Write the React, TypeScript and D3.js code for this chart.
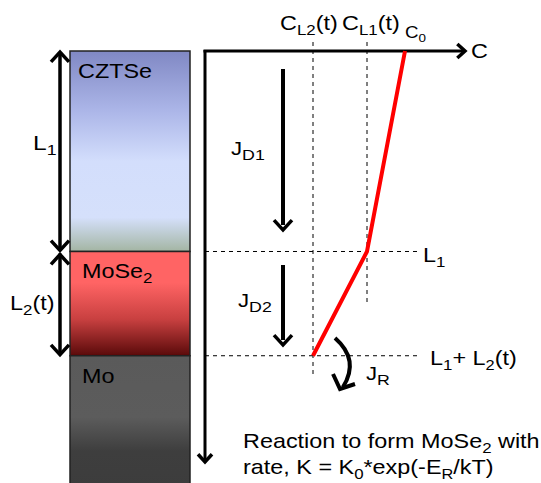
import React from 'react';
import * as d3 from 'd3';

// layer stack (depth units, 0 = surface)
const layers = [
  { name: 'CZTSe', sub: '', top: 0, bottom: 2.0, stops: ['#8088c4', '#acb6e8', '#d3defc', '#d5e0fb', '#a3b5a3'], at: [0, 0.3, 0.55, 0.83, 1] },
  { name: 'MoSe', sub: '2', top: 2.0, bottom: 3.04, stops: ['#ff6464', '#ff6464', '#c84040', '#5a0a0a'], at: [0, 0.3, 0.65, 1] },
  { name: 'Mo', sub: '', top: 3.04, bottom: 4.4, stops: ['#5a5a5a', '#5c5c5c', '#3e3e3e', '#3c3c3c'], at: [0, 0.45, 0.7, 1] },
];
const L1 = 2.0;
const L12 = 3.04;
const depthMax = 4.1;

// concentration profile (C relative to C0, depth)
const profile: [number, number][] = [
  [1.0, 0],
  [0.81, L1],
  [0.54, L12],
];
const cL1 = 0.81;
const cL2 = 0.54;
const cMax = 1.3;

const W = 541;
const H = 483;
const SX = 1.17; // the original lettering is a bit wide

const y = d3.scaleLinear().domain([0, depthMax]).range([51, 462]);
const x = d3.scaleLinear().domain([0, cMax]).range([205, 465]);

const Sub = ({ t, s, size = 20, r = 0.72 }: { t: string; s: string; size?: number; r?: number }) => (
  <>
    {t}
    <tspan fontSize={size * r} dy={size * 0.25}>{s}</tspan>
  </>
);

const Txt = ({ x0, y0, size = 20, children }: { x0: number; y0: number; size?: number; children: React.ReactNode }) => (
  <text transform={`translate(${x0},${y0}) scale(${SX},1)`} fontSize={size}>{children}</text>
);

const Head = ({ x0, y0, dir, s = 9 }: { x0: number; y0: number; dir: 'up' | 'down' | 'right'; s?: number }) => {
  let pts = '';
  if (dir === 'up') pts = `${x0 - s},${y0 + s * 1.1} ${x0},${y0} ${x0 + s},${y0 + s * 1.1}`;
  if (dir === 'down') pts = `${x0 - s},${y0 - s * 1.1} ${x0},${y0} ${x0 + s},${y0 - s * 1.1}`;
  if (dir === 'right') pts = `${x0 - s * 1.1},${y0 - s} ${x0},${y0} ${x0 - s * 1.1},${y0 + s}`;
  return <polyline points={pts} fill="none" stroke="#000" strokeWidth={3.5} strokeLinejoin="miter" />;
};

export default function App() {
  const line = d3.line<[number, number]>().x((d) => x(d[0])).y((d) => y(d[1]));
  const stackX0 = 70;
  const stackX1 = 190;
  const font = 'Liberation Sans, Arial, sans-serif';
  const dash = '4,4';

  const jrPath = d3.path();
  jrPath.moveTo(335, 338);
  jrPath.quadraticCurveTo(360, 360, 343, 387);

  return (
    <svg width={W} height={H} style={{ position: 'absolute', left: 0, top: 0, background: '#fff' }} fontFamily={font}>
      <defs>
        {layers.map((l, i) => (
          <linearGradient key={i} id={`g${i}`} x1="0" y1="0" x2="0" y2="1">
            {l.stops.map((c, j) => (
              <stop key={j} offset={l.at[j]} stopColor={c} />
            ))}
          </linearGradient>
        ))}
      </defs>

      {/* layer stack */}
      {layers.map((l, i) => (
        <g key={i}>
          <rect x={stackX0} y={y(l.top)} width={stackX1 - stackX0} height={y(l.bottom) - y(l.top)} fill={`url(#g${i})`} stroke="#222" strokeWidth={1.5} />
          <Txt x0={stackX0 + (i === 0 ? 8 : 12)} y0={y(l.top) + 27}>
            {l.sub ? <Sub t={l.name} s={l.sub} /> : l.name}
          </Txt>
        </g>
      ))}

      {/* thickness arrows */}
      <line x1={60} x2={60} y1={y(0) + 2} y2={y(L1) - 2} stroke="#000" strokeWidth={3.5} />
      <Head x0={60} y0={y(0) + 1} dir="up" />
      <Head x0={60} y0={y(L1) - 1} dir="down" />
      <line x1={60} x2={60} y1={y(L1) + 2} y2={y(L12) - 2} stroke="#000" strokeWidth={3.5} />
      <Head x0={60} y0={y(L1) + 3} dir="up" />
      <Head x0={60} y0={y(L12) - 1} dir="down" />
      <Txt x0={33} y0={150} size={21}><Sub t="L" s="1" size={21} /></Txt>
      <Txt x0={10} y0={310}><Sub t="L" s="2" /><tspan dy={-5}>(t)</tspan></Txt>

      {/* axes */}
      <line x1={x(0)} x2={x(0)} y1={y(0) - 1} y2={y(depthMax) - 2} stroke="#000" strokeWidth={3} />
      <Head x0={x(0)} y0={y(depthMax)} dir="down" s={7} />
      <line x1={x(0) - 1.5} x2={x(cMax) - 2} y1={y(0)} y2={y(0)} stroke="#000" strokeWidth={3} />
      <Head x0={x(cMax)} y0={y(0)} dir="right" s={7} />
      <Txt x0={471} y0={58}>C</Txt>

      {/* guides */}
      <line x1={x(cL2)} x2={x(cL2)} y1={42} y2={375} stroke="#000" strokeWidth={1} strokeDasharray={dash} />
      <line x1={x(cL1)} x2={x(cL1)} y1={42} y2={302} stroke="#000" strokeWidth={1} strokeDasharray={dash} />
      <line x1={x(0)} x2={417} y1={y(L1)} y2={y(L1)} stroke="#000" strokeWidth={1} strokeDasharray={dash} />
      <line x1={x(0)} x2={417} y1={y(L12)} y2={y(L12)} stroke="#000" strokeWidth={1} strokeDasharray={dash} />

      {/* profile */}
      <path d={line(profile) ?? ''} fill="none" stroke="#ff0000" strokeWidth={4} strokeLinejoin="round" />

      {/* labels */}
      <Txt x0={280} y0={30}><Sub t="C" s="L2" /><tspan dy={-5}>(t)</tspan></Txt>
      <Txt x0={342} y0={30}><Sub t="C" s="L1" /><tspan dy={-5}>(t)</tspan></Txt>
      <Txt x0={405} y0={38} size={16}><Sub t="C" s="0" size={16} /></Txt>
      <Txt x0={423} y0={262}><Sub t="L" s="1" /></Txt>
      <Txt x0={430} y0={365}><Sub t="L" s="1" /><tspan dy={-5}>+ L</tspan><tspan fontSize={14} dy={5}>2</tspan><tspan dy={-5}>(t)</tspan></Txt>

      {/* flux arrows */}
      <line x1={283} x2={283} y1={69} y2={225} stroke="#000" strokeWidth={4} />
      <Head x0={283} y0={230} dir="down" s={9} />
      <Txt x0={231} y0={155} size={19}><Sub t="J" s="D1" size={19} r={0.8} /></Txt>
      <line x1={283} x2={283} y1={265} y2={340} stroke="#000" strokeWidth={4} />
      <Head x0={283} y0={345} dir="down" s={9} />
      <Txt x0={238} y0={307} size={19}><Sub t="J" s="D2" size={19} r={0.8} /></Txt>

      <path d={jrPath.toString()} fill="none" stroke="#000" strokeWidth={4} />
      <polyline points="333,374 340,389 355,384" fill="none" stroke="#000" strokeWidth={4} />
      <Txt x0={366} y0={380} size={19}><Sub t="J" s="R" size={19} r={0.8} /></Txt>

      {/* caption */}
      <Txt x0={243} y0={448}>Reaction to form <Sub t="MoSe" s="2" /><tspan dy={-5}> with</tspan></Txt>
      <Txt x0={243} y0={474}>rate, K = <Sub t="K" s="0" /><tspan dy={-5}>*exp(-E</tspan><tspan fontSize={14} dy={5}>R</tspan><tspan dy={-5}>/kT)</tspan></Txt>
    </svg>
  );
}
